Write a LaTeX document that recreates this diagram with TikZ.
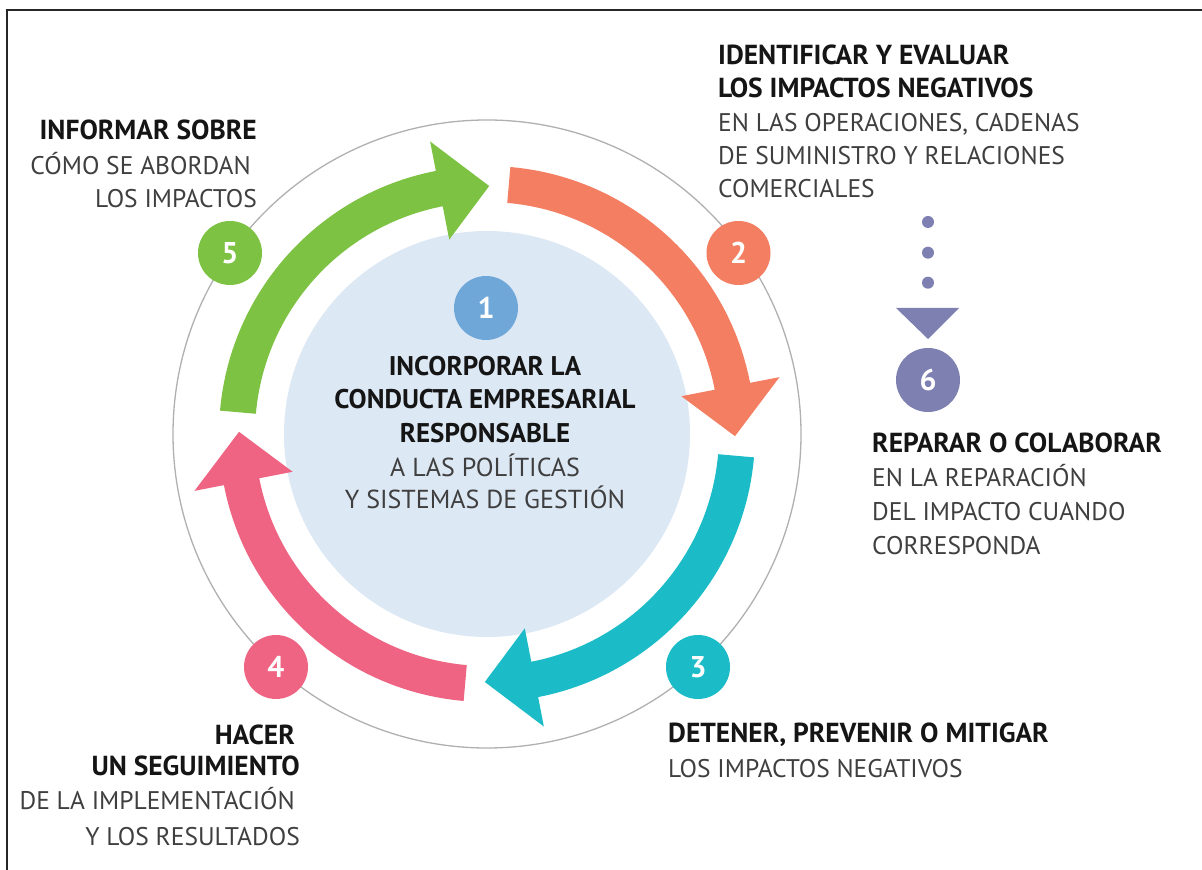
\documentclass[tikz,border=0pt]{standalone}
\usepackage{fontspec}
\setmainfont{PT Sans}
\usetikzlibrary{calc}
\definecolor{cgreen}{HTML}{7DC242}
\definecolor{corange}{HTML}{F37E61}
\definecolor{cteal}{HTML}{1BBCC7}
\definecolor{cpink}{HTML}{EE6482}
\definecolor{cblue}{HTML}{6FA8D8}
\definecolor{cdisk}{HTML}{DDE8F5}
\definecolor{cpurple}{HTML}{7E80B2}
\definecolor{cring}{HTML}{B0B0B0}
\definecolor{tdark}{HTML}{151515}
\definecolor{tgray}{HTML}{3F3F3F}
\newcommand{\cyclearrow}[4]{%
  \fill[#1] ($(C)+(#2:268pt)$) arc[start angle=#2, end angle=#3, radius=268pt]
    -- ($(C)+(#3:298pt)$) -- ($(C)+(#4:248pt)$) -- ($(C)+(#3:198pt)$)
    -- ($(C)+(#3:232pt)$) arc[start angle=#3, end angle=#2, radius=232pt] -- cycle;}
\begin{document}
\begin{tikzpicture}[x=1pt,y=1pt,
  badge/.style={circle, minimum size=64pt, inner sep=0pt, text=white,
    font=\bfseries\fontsize{30}{30}\selectfont},
  hdw/.style={anchor=base west, inner sep=0pt, text=tdark, font=\bfseries\fontsize{27.5}{30}\selectfont},
  hde/.style={anchor=base east, inner sep=0pt, text=tdark, font=\bfseries\fontsize{27.5}{30}\selectfont},
  txw/.style={anchor=base west, inner sep=0pt, text=tgray, font=\fontsize{25.5}{30}\selectfont},
  txe/.style={anchor=base east, inner sep=0pt, text=tgray, font=\fontsize{25.5}{30}\selectfont},
  hdc/.style={anchor=base, inner sep=0pt, text=tdark, font=\bfseries\fontsize{27}{30}\selectfont},
  txc/.style={anchor=base, inner sep=0pt, text=tgray, font=\fontsize{26}{30}\selectfont},
  dotmark/.style={circle, fill=cpurple, minimum size=12pt, inner sep=0pt}]
\useasboundingbox (0,0) rectangle (1202,870);
\fill[white] (0,0) rectangle (1202,870);
% frame
\draw[line width=2.5pt, black!85] (7,0) -- (7,860) -- (1202,860);
\coordinate (C) at (487,436);
% ring and disk
\draw[cring, line width=1.3pt] (C) circle[radius=314pt];
\fill[cdisk] (C) circle[radius=203pt];
% arrows
\cyclearrow{cgreen}{175}{101}{89.5}
\cyclearrow{corange}{85}{11}{-0.5}
\cyclearrow{cteal}{-5}{-79}{-90.5}
\cyclearrow{cpink}{-95}{-169}{-180.5}
% badges
\node[badge, fill=cblue] (b1) at (486,562) {1};
\node[badge, fill=corange] (b2) at (738.5,617) {2};
\node[badge, fill=cteal] (b3) at (698,203) {3};
\node[badge, fill=cpink] (b4) at (276,203) {4};
\node[badge, fill=cgreen] (b5) at (230,617) {5};
\node[badge, fill=cpurple] (b6) at (928,490) {6};
% dotted connector to 6
\node[dotmark] (d1) at (928,648) {};
\node[dotmark] (d2) at (928,617.3) {};
\node[dotmark] (d3) at (928,587.3) {};
\coordinate (tl) at (896,562);
\coordinate (tr) at (959,562);
\coordinate (tt) at (928,531);
\fill[cpurple] (tl) -- (tr) -- (tt) -- cycle;
% centre text
\node[hdc] (c1) at (485,494) {INCORPORAR LA};
\node[hdc] (c2) at (485,461) {CONDUCTA EMPRESARIAL};
\node[hdc] (c3) at (485,427) {RESPONSABLE};
\node[txc] (c4) at (485,393) {A LAS POLÍTICAS};
\node[txc] (c5) at (485,361) {Y SISTEMAS DE GESTIÓN};
% top left
\node[hde] (a1) at (257,730) {INFORMAR SOBRE};
\node[txe] (a2) at (251,695) {CÓMO SE ABORDAN};
\node[txe] (a3) at (257,662) {LOS IMPACTOS};
% top right
\node[hdw] (r1) at (718,805) {IDENTIFICAR Y EVALUAR};
\node[hdw] (r2) at (718,772) {LOS IMPACTOS NEGATIVOS};
\node[txw] (r3) at (718,738) {EN LAS OPERACIONES, CADENAS};
\node[txw] (r4) at (718,705) {DE SUMINISTRO Y RELACIONES};
\node[txw] (r5) at (718,672) {COMERCIALES};
% right middle
\node[hdw] (m1) at (872,417) {REPARAR O COLABORAR};
\node[txw] (m2) at (872,383) {EN LA REPARACIÓN};
\node[txw] (m3) at (872,349) {DEL IMPACTO CUANDO};
\node[txw] (m4) at (872,315) {CORRESPONDA};
% bottom right
\node[hdw] (s1) at (668,127) {DETENER, PREVENIR O MITIGAR};
\node[txw] (s2) at (668,92) {LOS IMPACTOS NEGATIVOS};
% bottom left
\node[hde] (e1) at (295,125) {HACER};
\node[hde] (e2) at (300,94) {UN SEGUIMIENTO};
\node[txe] (e3) at (295,60) {DE LA IMPLEMENTACIÓN};
\node[txe] (e4) at (300,24) {Y LOS RESULTADOS};
\end{tikzpicture}
\end{document}
